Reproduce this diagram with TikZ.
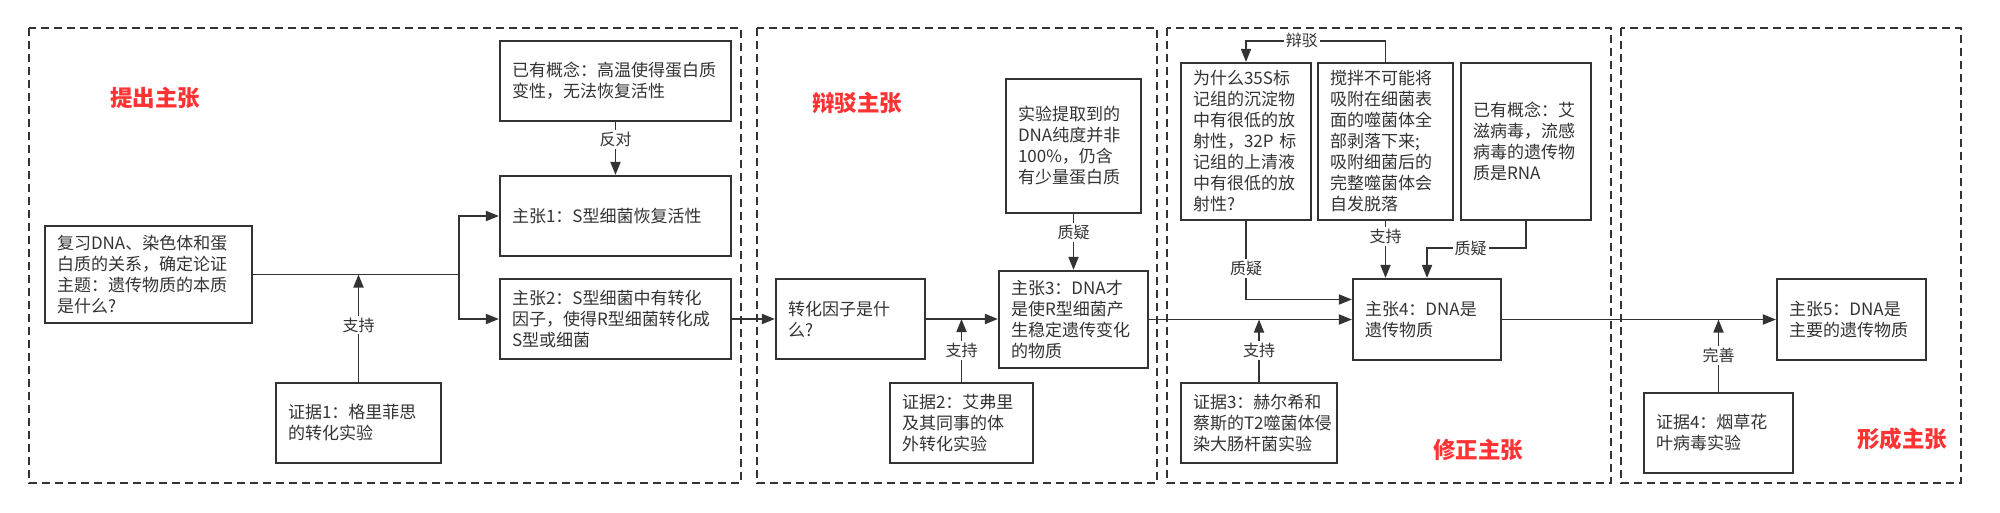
\documentclass[tikz,border=0pt]{standalone}
\usepackage{fontspec}
\setmainfont{Noto Sans CJK SC}
\usetikzlibrary{arrows.meta,calc}
\definecolor{ink}{HTML}{333333}
\definecolor{hot}{HTML}{FF3333}
\begin{document}
\begin{tikzpicture}[x=1pt,y=-1pt,
 box/.style={draw=ink, line width=2.2pt, fill=white, align=left, inner xsep=12pt, inner ysep=0pt, text=ink, font=\fontsize{17}{21}\selectfont},
 conn/.style={draw=ink, line width=1.8pt},
 arr/.style={conn, -{Triangle[length=13pt,width=10pt]}},
 lbl/.style={fill=white, inner sep=2pt, text=ink, font=\fontsize{16}{19}\selectfont},
 panel/.style={draw=ink, line width=1.5pt, dash pattern=on 8pt off 5pt},
 title/.style={text=hot, font=\fontsize{22.5}{27}\selectfont\bfseries}]

\useasboundingbox[fill=white] (0,0) rectangle (2000,512);

% panels
\draw[panel] (29,28) rectangle (741,483);
\draw[panel] (757,28) rectangle (1157,483);
\draw[panel] (1167,28) rectangle (1611,483);
\draw[panel] (1621,28) rectangle (1961,483);

% titles
\node[title] (t1) at (155,98) {提出主张};
\node[title] (t2) at (857,103) {辩驳主张};
\node[title] (t3) at (1478,450) {修正主张};
\node[title] (t4) at (1902,439) {形成主张};

% panel 1
\node[box, text width=183pt, minimum height=97pt] (q0) at (148.5,274.5) {复习DNA、染色体和蛋\\白质的关系，确定论证\\主题：遗传物质的本质\\是什么?};
\node[box, text width=207pt, minimum height=80pt] (c0) at (615.5,81) {已有概念：高温使得蛋白质\\变性，无法恢复活性};
\node[box, text width=207pt, minimum height=80pt] (m1) at (615.5,216) {主张1：S型细菌恢复活性};
\node[box, text width=207pt, minimum height=80pt] (m2) at (615.5,319) {主张2：S型细菌中有转化\\因子，使得R型细菌转化成\\S型或细菌};
\node[box, text width=141pt, minimum height=80pt] (e1) at (358.5,423) {证据1：格里菲思\\的转化实验};

% panel 2
\node[box, text width=125pt, minimum height=80pt] (q1) at (850.5,319) {转化因子是什\\么?};
\node[box, text width=111pt, minimum height=134pt] (d1) at (1073.5,146) {实验提取到的\\DNA纯度并非\\100\%，仍含\\有少量蛋白质};
\node[box, text width=125pt, minimum height=97pt] (m3) at (1073.5,319.5) {主张3：DNA才\\是使R型细菌产\\生稳定遗传变化\\的物质};
\node[box, text width=119pt, minimum height=80pt] (e2) at (961.5,423) {证据2：艾弗里\\及其同事的体\\外转化实验};

% panel 3
\node[box, text width=106pt, minimum height=157pt] (d2) at (1246,141.5) {为什么35S标\\记组的沉淀物\\中有很低的放\\射性，32P 标\\记组的上清液\\中有很低的放\\射性?};
\node[box, text width=111pt, minimum height=157pt] (d3) at (1385.5,141.5) {搅拌不可能将\\吸附在细菌表\\面的噬菌体全\\部剥落下来;\\吸附细菌后的\\完整噬菌体会\\自发脱落};
\node[box, text width=106pt, minimum height=157pt] (d4) at (1526,141.5) {已有概念：艾\\滋病毒，流感\\病毒的遗传物\\质是RNA};
\node[box, text width=124pt, minimum height=81pt] (m4) at (1427,319.5) {主张4：DNA是\\遗传物质};
\node[box, text width=132pt, minimum height=80pt] (e3) at (1259,423) {证据3：赫尔希和\\蔡斯的T2噬菌体侵\\染大肠杆菌实验};

% panel 4
\node[box, text width=125pt, minimum height=81pt] (m5) at (1851.5,319.5) {主张5：DNA是\\主要的遗传物质};
\node[box, text width=125pt, minimum height=80pt] (e4) at (1718.5,433) {证据4：烟草花\\叶病毒实验};

% connectors panel 1
\coordinate (br) at (459,274.5);
\draw[conn] (q0.east) -- (br);
\draw[arr] (br) |- (m1.west);
\draw[arr] (br) |- (m2.west);
\draw[arr] (e1.north) -- (e1.north |- q0.east) node[lbl, pos=0.53] {支持};
\draw[arr] (c0.south) -- (m1.north) node[lbl, pos=0.33] {反对};

% panel 2
\draw[arr] (m2.east) -- (q1.west);
\draw[arr] (q1.east) -- (q1.east -| m3.west);
\draw[arr] (e2.north) -- (e2.north |- q1.east) node[lbl, midway] {支持};
\draw[arr] (d1.south) -- (m3.north) node[lbl, pos=0.33] {质疑};

% panel 3
\draw[arr] (m3.east) -- (m4.west);
\draw[arr] (e3.north) -- (e3.north |- m4.west) node[lbl, midway] {支持};
\draw[arr] (d2.south) |- ([yshift=20pt]m4.west) node[lbl, pos=0.3] {质疑};
\draw[arr] (d3.south) -- (d3.south |- m4.north) node[lbl, pos=0.27] {支持};
\coordinate (k4) at (1427,248);
\draw[arr] (d4.south) |- (k4) node[lbl, pos=0.78] {质疑} -- (m4.north);
\draw[arr] (d3.north) -- ++(0,-21) -| (d2.north) node[lbl, pos=0.3] {辩驳};

% panel 4
\draw[arr] (m4.east) -- (m5.west);
\draw[arr] (e4.north) -- (e4.north |- m5.west) node[lbl, midway] {完善};

\end{tikzpicture}
\end{document}
